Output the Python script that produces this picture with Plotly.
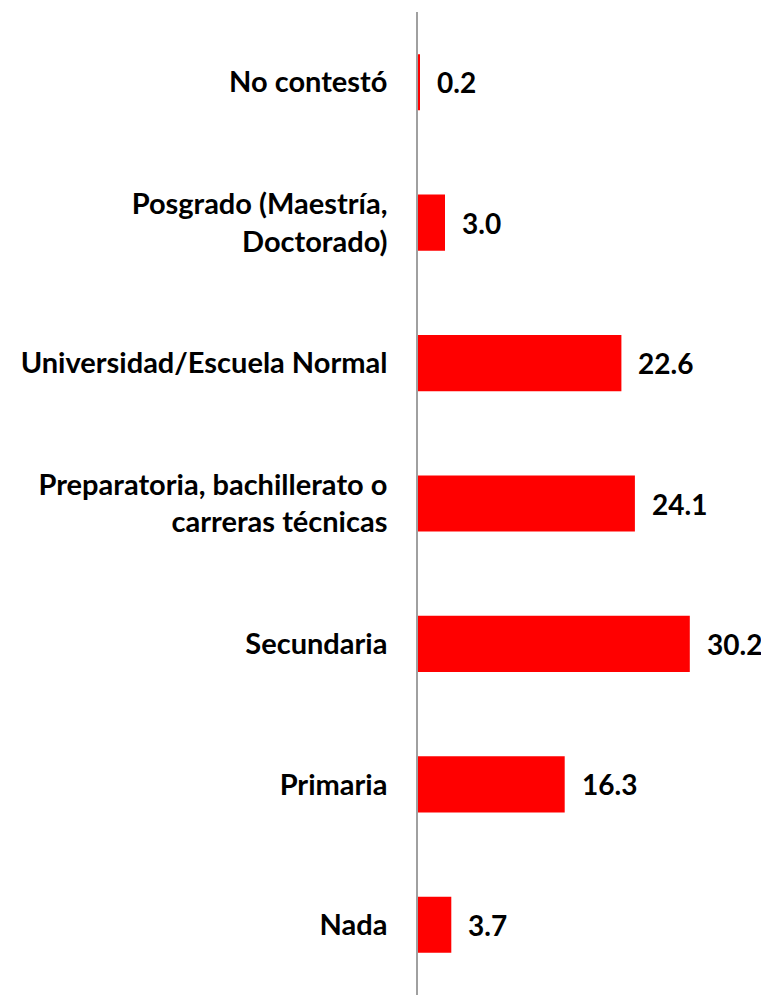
import plotly.graph_objects as go

categories = [
    "Nada",
    "Primaria",
    "Secundaria",
    "Preparatoria, bachillerato o<br>carreras técnicas",
    "Universidad/Escuela Normal",
    "Posgrado (Maestría,<br>Doctorado)",
    "No contestó",
]
values = [3.7, 16.3, 30.2, 24.1, 22.6, 3.0, 0.2]
value_labels = ["3.7", "16.3", "30.2", "24.1", "22.6", "3.0", "0.2"]

FONT = "Lato"

fig = go.Figure(
    go.Bar(
        x=values,
        y=categories,
        orientation="h",
        marker=dict(color="#FF0000", line=dict(width=0)),
        width=0.4,
        hoverinfo="skip",
    )
)

for v, lab, cat in zip(values, value_labels, categories):
    fig.add_annotation(
        x=v, y=cat, text=f"<b>{lab}</b>", showarrow=False,
        xanchor="left", yanchor="middle", xshift=15,
        font=dict(family=FONT, size=28, color="black"),
    )

fig.update_layout(
    width=761,
    height=987,
    margin=dict(l=410, r=0, t=4, b=0, autoexpand=False),
    plot_bgcolor="white",
    paper_bgcolor="white",
    showlegend=False,
    font=dict(family=FONT, size=28, color="black"),
    xaxis=dict(
        range=[0, 39],
        showgrid=False,
        showticklabels=False,
        zeroline=False,
        showline=False,
        ticks="",
    ),
    yaxis=dict(
        categoryorder="array",
        categoryarray=categories,
        showgrid=False,
        zeroline=False,
        showline=True,
        linecolor="#A0A0A0",
        linewidth=1.5,
        ticks="",
        ticklabelstandoff=23,
        tickfont=dict(family=FONT, size=29, color="black", weight="bold"),
        automargin=False,
    ),
)

fig.write_html("out.html")
